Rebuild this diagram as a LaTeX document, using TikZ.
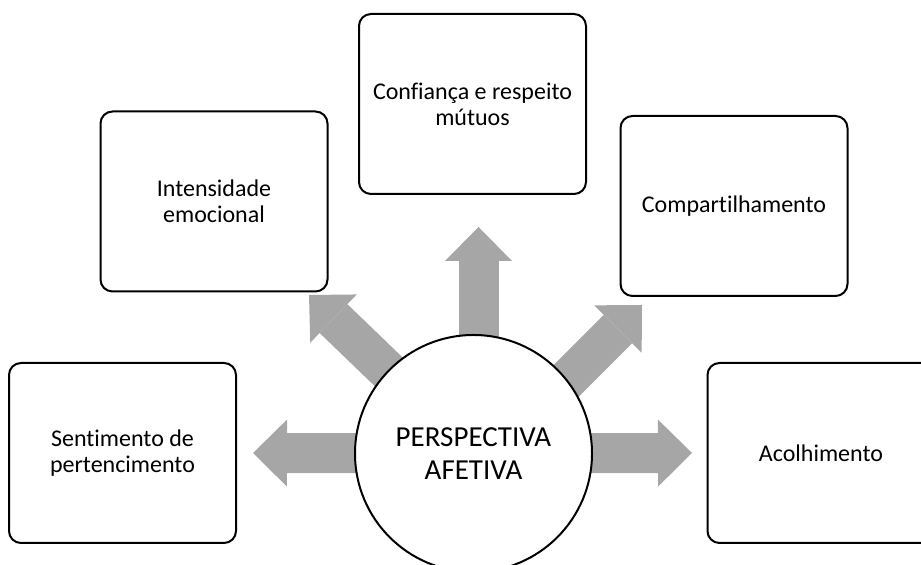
\documentclass[tikz,border=0pt]{standalone}
\usepackage{fontspec}
\setmainfont{Carlito}[Ligatures={NoCommon}]
\usetikzlibrary{arrows.meta,backgrounds,calc}
\definecolor{arrowgray}{HTML}{A6A6A6}

\begin{document}
\begin{tikzpicture}[x=0.5pt,y=0.5pt,
	box/.style={draw,fill=white,rounded corners=6pt,line width=1pt,minimum width=113.5pt,minimum height=90pt,inner sep=0,align=center,font=\fontsize{12}{13}\selectfont},
	hub/.style={draw,circle,fill=white,line width=1pt,minimum size=118.5pt,inner sep=0,align=center,font=\fontsize{14.5}{16.5}\selectfont},
	blockarrow/.style={arrowgray,line width=20pt,-{Triangle[length=17pt,width=33.5pt,line width=0pt]}}]
	\path[use as bounding box,clip] (0,0) rectangle (921,565);
	\node[hub] (p) at (473.5,111.5) {PERSPECTIVA\\AFETIVA};
	\node[box] (senti) at (122.5,112) {Sentimento de\\pertencimento};
	\node[box] (intens) at (214,363.5) {Intensidade\\emocional};
	\node[box] (conf) at (472.5,461) {Confiança e respeito\\mútuos};
	\node[box] (comp) at (734,359) {Compartilhamento};
	\node[box] (acol) at (821,112) {Acolhimento};
	\coordinate (tl) at (253,112);
	\coordinate (tul) at (309,270);
	\coordinate (tu) at (478.5,338);
	\coordinate (tur) at (642,260);
	\coordinate (tr) at (692,112);
	\begin{scope}[on background layer]
		\draw[blockarrow] (p.center) -- (tl);
		\draw[blockarrow] (p.center) -- (tul);
		\draw[blockarrow] (p.center -| tu) -- (tu);
		\draw[blockarrow] ($(p.center)+(20,0)$) -- (tur);
		\draw[blockarrow] (p.center) -- (tr);
	\end{scope}
\end{tikzpicture}
\end{document}
